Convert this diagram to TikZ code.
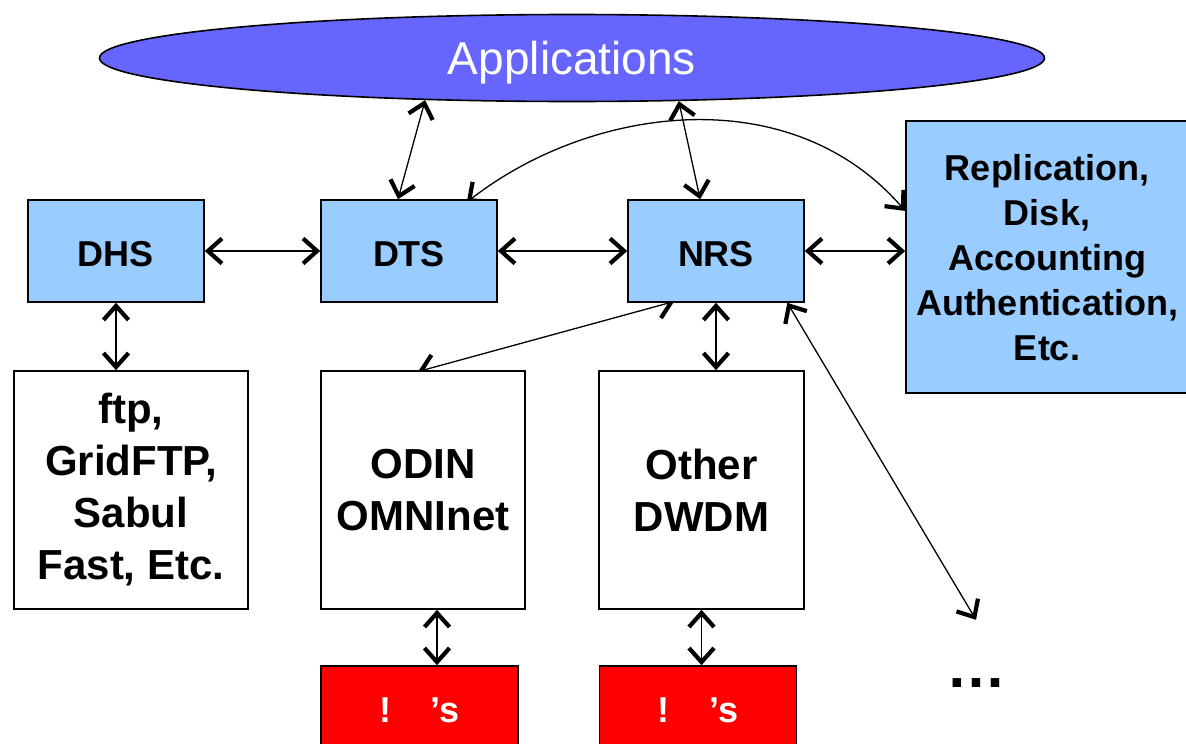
\documentclass[tikz,border=0pt]{standalone}
\usepackage{fontspec}
\setmainfont{Liberation Sans}
\usetikzlibrary{shapes.geometric, arrows.meta, backgrounds}

\definecolor{appblue}{RGB}{102,102,255}
\definecolor{svcblue}{RGB}{153,204,255}

\begin{document}
\begin{tikzpicture}[x=1pt, y=-1pt,
    svcbox/.style={draw, line width=1.6pt, rectangle, fill=svcblue, align=center,
                   font=\fontsize{36}{45}\selectfont\bfseries, inner sep=0pt,
                   text depth=0pt, minimum width=176pt, minimum height=102pt},
    toolbox/.style={draw, line width=1.6pt, rectangle, fill=white, align=center,
                    font=\fontsize{42}{52}\selectfont\bfseries, inner sep=0pt,
                    minimum height=238pt},
    lambdabox/.style={draw, line width=1.6pt, rectangle, fill=red, text=white,
                      font=\fontsize{36}{45}\selectfont\bfseries, text depth=0pt,
                      minimum width=197pt, minimum height=88pt},
    link/.style={line width=1.3pt, {Straight Barb[length=14pt,width=25pt,line width=4.2pt 0]}-{Straight Barb[length=14pt,width=25pt,line width=4.2pt 0]}}
]
    \useasboundingbox (0,0) rectangle (1186,744);

    % --- Applications ---
    \node[ellipse, draw, line width=1.6pt, fill=appblue, text=white,
          font=\fontsize{46}{55}\selectfont, inner sep=0pt, text depth=0pt,
          minimum width=945pt, minimum height=87pt] (apps) at (572,58)
        {Applications};

    % --- Service Row ---
    \node[svcbox, text height=31pt] (dhs) at (116,251) {DHS};
    \node[svcbox, text height=31pt] (dts) at (409,251) {DTS};
    \node[svcbox, text height=31pt] (nrs) at (716,251) {NRS};
    \node[svcbox, minimum width=282pt, minimum height=272pt] (repl) at (1047,257)
        {Replication,\\Disk,\\Accounting\\Authentication,\\Etc.};

    % --- Transport Row ---
    \node[toolbox, minimum width=234pt] (ftp) at (131,490)
        {ftp,\\GridFTP,\\Sabul\\Fast, Etc.};
    \node[toolbox, minimum width=204pt] (odin) at (423,490)
        {ODIN\\OMNInet};
    \node[toolbox, minimum width=205pt] (dwdm) at (701.5,490)
        {Other\\DWDM};

    % --- Lambdas ---
    \node[lambdabox] (lam1) at (419.5,710) {!\hspace{1.1em}’s};
    \node[lambdabox] (lam2) at (698,710) {!\hspace{1.1em}’s};
    \node[font=\fontsize{60}{70}\selectfont\bfseries, inner sep=0pt,
          minimum height=126pt] (more) at (976,683) {…};

    % --- Connections ---
    \begin{scope}[on background layer]
    \draw[link] (apps.196) -- (dts.102);
    \draw[link] (apps.338) -- (nrs.107);
    \draw[link] (dhs.east) -- (dts.west);
    \draw[link] (dts.east) -- (nrs.west);
    \draw[link] (nrs.east) -- (nrs.east -| repl.west);
    \draw[link, shorten <=-5pt] (dts.40) .. controls (590,106) and (790,78) .. (repl.162);
    \draw[link] (dhs.south) -- (dhs.south |- ftp.north);
    \draw[link, shorten <=-5pt, shorten >=-5pt] (nrs.228) -- (odin.north);
    \draw[link] (nrs.south) -- (nrs.south |- dwdm.north);
    \draw[link] (nrs.324) -- (more.north);
    \draw[link] ([xshift=14pt]odin.south) -- ([xshift=14pt]odin.south |- lam1.north);
    \draw[link] (dwdm.south) -- (dwdm.south |- lam2.north);
    \end{scope}
\end{tikzpicture}
\end{document}
